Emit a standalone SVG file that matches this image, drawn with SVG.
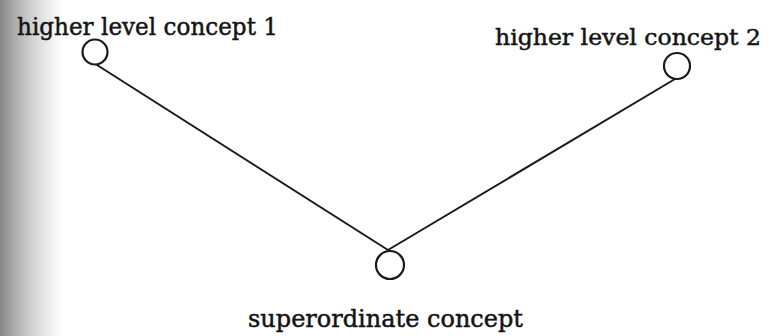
<svg xmlns="http://www.w3.org/2000/svg" width="774" height="336" viewBox="0 0 774 336">
<defs>
<linearGradient id="shadow" x1="0" y1="0" x2="1" y2="0">
<stop offset="0" stop-color="#858585"/>
<stop offset="0.2" stop-color="#a8a8a8"/>
<stop offset="0.55" stop-color="#d6d6d6"/>
<stop offset="1" stop-color="#ffffff"/>
</linearGradient>
</defs>
<style>
.node circle{fill:none;stroke:#1a1a1a;stroke-width:2.2}
.conn line{stroke:#1a1a1a;stroke-width:2;stroke-linecap:round}
text{font-family:"DejaVu Serif","Liberation Serif",serif;font-size:25px;fill:#141414;stroke:#141414;stroke-width:0.5}
text.r{font-size:23px}
</style>
<rect width="774" height="336" fill="#ffffff"/>
<rect x="0" y="0" width="62" height="336" fill="url(#shadow)"/>
<g id="connectors" class="conn">
<line x1="97" y1="65" x2="388" y2="250"/>
<line x1="675" y1="79" x2="388" y2="250"/>
</g>
<g id="node-higher1" class="node">
<circle cx="95" cy="52" r="12.5"/>
<text x="17" y="35" textLength="261" lengthAdjust="spacingAndGlyphs">higher level concept 1</text>
</g>
<g id="node-higher2" class="node">
<circle cx="677" cy="66" r="13"/>
<text class="r" x="495" y="45" textLength="266" lengthAdjust="spacingAndGlyphs">higher level concept 2</text>
</g>
<g id="node-superordinate" class="node">
<circle cx="390" cy="265" r="14"/>
<text x="248" y="327" textLength="275" lengthAdjust="spacingAndGlyphs">superordinate concept</text>
</g>
</svg>
